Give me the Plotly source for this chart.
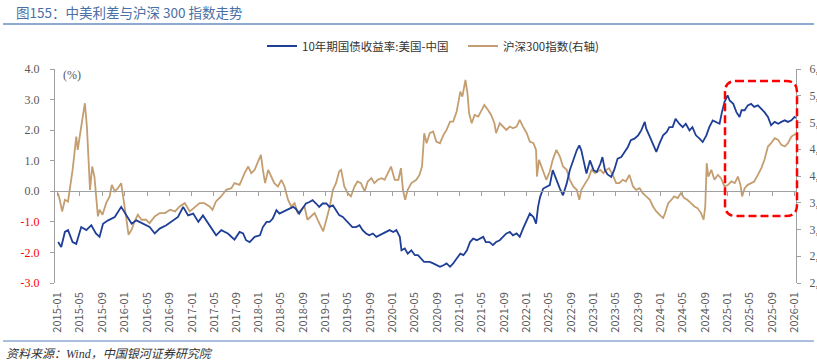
import plotly.graph_objects as go

# ---------------- data ----------------
spread_dates = [
"2015-01-02","2015-01-19","2015-02-08","2015-02-25","2015-03-22","2015-04-11","2015-05-08","2015-06-05",
"2015-07-02","2015-07-27","2015-08-16","2015-09-04","2015-10-02","2015-11-07","2015-12-12","2016-01-10",
"2016-02-07","2016-03-04","2016-04-09","2016-05-15","2016-06-12","2016-07-09","2016-08-14","2016-09-20",
"2016-10-17","2016-11-14","2016-12-11","2017-01-08","2017-02-05","2017-03-02","2017-04-08","2017-05-13",
"2017-06-10","2017-07-16","2017-08-21","2017-09-18","2017-10-07","2017-10-23","2017-11-12","2017-12-09",
"2018-01-07","2018-01-23","2018-02-12","2018-03-01","2018-03-18","2018-04-07","2018-04-23","2018-05-12",
"2018-06-01","2018-06-18","2018-07-07","2018-07-21","2018-08-09","2018-08-26","2018-09-15","2018-10-04",
"2018-10-21","2018-11-09","2018-11-26","2018-12-15","2019-01-04","2019-01-21","2019-02-09","2019-02-26",
"2019-03-15","2019-04-04","2019-04-21","2019-05-09","2019-05-26","2019-06-15","2019-07-04","2019-07-21",
"2019-08-09","2019-08-26","2019-09-15","2019-10-04","2019-10-21","2019-11-09","2019-11-26","2019-12-15",
"2020-01-04","2020-01-21","2020-02-09","2020-02-18","2020-03-07","2020-03-23","2020-04-12","2020-05-01",
"2020-05-18","2020-06-06","2020-06-20","2020-07-04","2020-07-21","2020-08-09","2020-08-26","2020-09-15",
"2020-10-04","2020-10-21","2020-11-09","2020-11-26","2020-12-15","2021-01-04","2021-01-21","2021-02-09",
"2021-02-26","2021-03-15","2021-04-04","2021-04-21","2021-05-09","2021-05-23","2021-06-12","2021-07-01",
"2021-07-18","2021-08-07","2021-08-24","2021-09-12","2021-10-01","2021-10-18","2021-11-07","2021-11-24",
"2021-12-12","2022-01-01","2022-01-18","2022-02-07","2022-02-21","2022-03-04","2022-03-15","2022-04-01",
"2022-04-18","2022-05-07","2022-05-23","2022-06-12","2022-07-01","2022-07-18","2022-08-07","2022-08-24",
"2022-09-12","2022-10-01","2022-10-15","2022-10-26","2022-11-07","2022-11-23","2022-12-12","2023-01-01",
"2023-01-18","2023-02-07","2023-02-18","2023-03-04","2023-03-18","2023-04-07","2023-04-23","2023-05-12",
"2023-06-01","2023-06-18","2023-07-07","2023-07-23","2023-08-12","2023-09-01","2023-09-18","2023-10-07",
"2023-10-15","2023-11-04","2023-11-21","2023-12-09","2023-12-26","2024-01-15","2024-02-04","2024-02-18",
"2024-03-07","2024-03-23","2024-04-12","2024-05-01","2024-05-18","2024-06-07","2024-06-23","2024-07-12",
"2024-08-01","2024-08-18","2024-09-07","2024-09-23","2024-10-12","2024-11-01","2024-11-18","2024-12-01",
"2024-12-15","2025-01-01","2025-01-12","2025-02-01","2025-02-18","2025-03-07","2025-03-18","2025-04-04",
"2025-04-21","2025-05-09","2025-05-26","2025-06-15","2025-07-04","2025-07-21","2025-08-09","2025-08-26",
"2025-09-15","2025-10-04","2025-10-21","2025-11-09","2025-11-26","2025-12-15","2026-01-01","2026-01-08",
]
spread_values = [
-1.66,-1.82,-1.33,-1.27,-1.66,-1.72,-1.17,-1.27,
-1.11,-1.38,-1.49,-1.06,-0.95,-0.84,-0.51,-0.79,
-1.06,-0.95,-1.06,-1.17,-1.38,-1.22,-1.11,-0.95,
-0.84,-0.51,-0.79,-0.73,-1.00,-0.79,-1.11,-1.44,
-1.27,-1.38,-1.58,-1.33,-1.38,-1.60,-1.66,-1.49,
-1.44,-1.17,-1.00,-1.00,-0.89,-0.62,-0.73,-0.68,
-0.62,-0.57,-0.51,-0.57,-0.73,-0.57,-0.40,-0.35,
-0.29,-0.40,-0.51,-0.40,-0.40,-0.51,-0.46,-0.62,
-0.78,-0.84,-0.95,-1.06,-1.17,-1.17,-1.11,-1.27,
-1.38,-1.44,-1.38,-1.49,-1.44,-1.38,-1.33,-1.27,
-1.33,-1.27,-1.49,-1.93,-1.87,-2.04,-1.93,-2.09,
-2.09,-2.20,-2.31,-2.31,-2.31,-2.36,-2.42,-2.47,
-2.42,-2.36,-2.47,-2.36,-2.20,-2.04,-2.09,-1.93,
-1.66,-1.55,-1.60,-1.55,-1.49,-1.66,-1.66,-1.76,
-1.66,-1.60,-1.49,-1.38,-1.33,-1.44,-1.38,-1.49,
-1.22,-0.95,-0.73,-0.84,-1.06,-0.51,-0.19,0.09,
0.14,0.20,0.69,0.36,0.09,-0.13,0.25,0.69,
1.01,1.34,1.50,1.34,1.01,0.58,1.01,0.69,
0.63,0.90,1.12,0.69,0.55,0.47,0.69,1.07,
1.12,1.29,1.45,1.67,1.72,1.83,1.99,2.27,
2.05,1.78,1.56,1.29,1.56,1.83,1.94,2.10,
2.10,2.37,2.21,2.10,2.21,1.99,2.10,1.83,
1.72,1.61,1.83,2.10,2.32,2.27,2.21,2.59,
2.92,3.14,2.97,2.86,2.59,2.43,2.65,2.65,
2.81,2.86,2.76,2.81,2.70,2.59,2.43,2.16,
2.27,2.21,2.27,2.32,2.27,2.32,2.43,2.40,
]

csi_dates = [
"2015-01-01","2015-01-11","2015-01-24","2015-02-08","2015-02-25","2015-03-05","2015-03-22","2015-04-11",
"2015-04-19","2015-05-08","2015-05-16","2015-05-28","2015-06-08","2015-06-18","2015-06-25","2015-07-07",
"2015-07-19","2015-08-07","2015-08-16","2015-09-01","2015-09-21","2015-10-10","2015-10-22","2015-11-07",
"2015-11-24","2015-12-12","2015-12-24","2016-01-10","2016-01-21","2016-02-07","2016-02-23","2016-03-12",
"2016-04-01","2016-04-26","2016-05-15","2016-06-12","2016-07-09","2016-08-07","2016-09-04","2016-10-01",
"2016-10-26","2016-11-23","2016-12-20","2017-01-18","2017-02-12","2017-03-09","2017-04-07","2017-04-23",
"2017-05-12","2017-06-09","2017-07-07","2017-08-04","2017-08-21","2017-09-18","2017-10-15","2017-11-04",
"2017-11-21","2017-12-09","2017-12-26","2018-01-12","2018-01-23","2018-02-04","2018-02-21","2018-03-09",
"2018-03-26","2018-04-15","2018-05-04","2018-05-21","2018-06-09","2018-06-26","2018-07-15","2018-08-01",
"2018-08-18","2018-09-07","2018-09-23","2018-10-12","2018-11-01","2018-11-18","2018-12-07","2018-12-18",
"2019-01-04","2019-01-21","2019-02-09","2019-02-26","2019-03-15","2019-03-26","2019-04-12","2019-05-01",
"2019-05-18","2019-06-07","2019-06-23","2019-07-12","2019-08-01","2019-08-18","2019-09-07","2019-09-23",
"2019-10-12","2019-11-01","2019-11-18","2019-12-07","2019-12-23","2020-01-12","2020-02-01","2020-02-15",
"2020-02-26","2020-03-09","2020-03-23","2020-04-12","2020-05-09","2020-05-26","2020-06-09","2020-06-21",
"2020-07-04","2020-07-21","2020-08-09","2020-08-26","2020-09-15","2020-10-04","2020-10-21","2020-11-09",
"2020-11-26","2020-12-15","2021-01-04","2021-01-15","2021-02-01","2021-02-12","2021-02-21","2021-03-07",
"2021-03-23","2021-04-12","2021-04-26","2021-05-15","2021-06-04","2021-06-21","2021-07-09","2021-07-18",
"2021-08-07","2021-08-24","2021-09-12","2021-10-01","2021-10-18","2021-11-07","2021-11-24","2021-12-12",
"2022-01-01","2022-01-18","2022-02-07","2022-02-21","2022-02-26","2022-03-09","2022-03-21","2022-04-04",
"2022-04-18","2022-05-07","2022-05-23","2022-06-12","2022-07-01","2022-07-18","2022-08-07","2022-08-24",
"2022-09-12","2022-10-01","2022-10-15","2022-10-26","2022-11-15","2022-12-04","2022-12-21","2023-01-09",
"2023-02-07","2023-02-23","2023-03-12","2023-03-26","2023-04-15","2023-05-04","2023-05-21","2023-06-09",
"2023-06-26","2023-07-15","2023-08-04","2023-08-21","2023-09-09","2023-09-26","2023-10-15","2023-11-04",
"2023-11-21","2023-12-09","2023-12-26","2024-01-15","2024-01-23","2024-02-12","2024-03-01","2024-03-15",
"2024-04-04","2024-04-21","2024-05-09","2024-05-26","2024-06-15","2024-07-04","2024-07-21","2024-08-09",
"2024-08-23","2024-09-01","2024-09-09","2024-09-18","2024-10-04","2024-10-21","2024-11-09","2024-11-26",
"2024-12-15","2025-01-04","2025-01-21","2025-02-09","2025-02-26","2025-03-12","2025-03-21","2025-04-04",
"2025-04-21","2025-05-09","2025-05-26","2025-06-15","2025-07-04","2025-07-21","2025-08-09","2025-08-26",
"2025-09-15","2025-10-04","2025-10-21","2025-11-09","2025-11-26","2025-12-15","2026-01-01","2026-01-08",
]
csi_values = [
3680,3556,3338,3556,3524,3711,4115,4737,
4490,4924,5110,5360,4924,4300,3740,4177,
3990,3245,3369,3276,3493,3618,3835,3711,
3773,3867,3618,3182,2902,2996,3151,3276,
3182,3182,3120,3245,3307,3307,3369,3338,
3431,3493,3338,3431,3493,3493,3431,3369,
3524,3618,3742,3773,3867,3835,4053,4177,
4053,4115,4240,4395,4115,3867,4115,3990,
3867,3804,3929,3804,3556,3431,3493,3307,
3369,3431,3182,3245,3307,3182,3058,2965,
3182,3400,3742,3867,4084,4115,3804,3680,
3618,3804,3898,3867,3711,3898,3960,3867,
3929,3960,3929,4053,4177,3929,3929,4146,
3742,3556,3742,3867,3929,4020,4177,4800,
4613,4800,4831,4644,4613,4768,4862,5017,
5017,5204,5577,5484,5795,5546,5173,4986,
5142,5111,5204,5328,5235,5142,4986,4800,
4986,4924,4862,4924,4893,4924,5048,4924,
4800,4644,4613,4489,3990,4302,4177,4053,
3929,4084,4302,4489,4364,4177,4115,3929,
3804,3742,3556,3742,3867,3960,4115,4053,
4115,4053,4115,4146,4022,3867,3867,3929,
3898,4022,3804,3742,3773,3680,3618,3556,
3431,3338,3276,3213,3276,3493,3556,3618,
3587,3680,3587,3556,3493,3431,3400,3307,
3182,3431,4240,3990,4115,3929,4022,3960,
3804,3835,3898,3867,3990,3835,3618,3773,
3835,3867,3898,4022,4146,4302,4551,4613,
4706,4675,4582,4551,4613,4737,4768,4790,
]

tick_dates = [f"{y}-{m:02d}-01" for y in range(2015, 2027) for m in (1, 5, 9)][:34]
left_ticks = [-3.0, -2.0, -1.0, 0.0, 1.0, 2.0, 3.0, 4.0]
right_ticks = [2000, 2500, 3000, 3500, 4000, 4500, 5000, 5500, 6000]

name_spread = "10年期国债收益率:美国-中国"
name_csi = "沪深300指数(右轴)"
title_text = "图155：中美利差与沪深 300 指数走势"
source_text = "资料来源：Wind，中国银河证券研究院"

# ---------------- layout geometry ----------------
FW, FH = 817, 364
L, R, T, B = 55, 796, 69, 283
W, H = R - L, B - T

def px(x):
    return (x - L) / W

def py(y):
    return (B - y) / H

BLUE = "#1f3f96"
TAN = "#c49e70"
GRAY = "#595959"
AXIS = "#a0a0a0"
SANS = "Noto Sans CJK SC, Noto Sans, sans-serif"
SERIF = "Liberation Serif, Noto Sans CJK SC, serif"

fig = go.Figure()

fig.add_trace(go.Scatter(
    x=csi_dates, y=csi_values, name=name_csi, mode="lines",
    line=dict(color=TAN, width=1.8), yaxis="y", xaxis="x", legendrank=2,
))
fig.add_trace(go.Scatter(
    x=spread_dates, y=spread_values, name=name_spread, mode="lines",
    line=dict(color=BLUE, width=1.8), yaxis="y2", xaxis="x", legendrank=1,
))
# carrier trace for the zero-line axis (draws nothing visible)
fig.add_trace(go.Scatter(
    x=spread_dates[:1], y=[None], xaxis="x2", yaxis="y2", mode="lines",
    showlegend=False, hoverinfo="skip",
))

left_text = [
    (f'<span style="color:#ff0000">{v:.1f}</span>' if v < 0 else f"{v:.1f}")
    for v in left_ticks
]

fig.update_layout(
    width=FW, height=FH, autosize=False,
    margin=dict(l=L, r=FW - R, t=T, b=FH - B, pad=0, autoexpand=False),
    paper_bgcolor="white", plot_bgcolor="white",
    showlegend=True,
    legend=dict(
        orientation="h", x=px(262), y=py(46), xanchor="left", yanchor="middle",
        font=dict(family=SANS, size=11.5, color="#333333"),
        entrywidth=156, entrywidthmode="pixels", itemwidth=30,
        bgcolor="rgba(0,0,0,0)",
    ),
    xaxis=dict(
        type="date", range=["2014-12-16", "2026-01-09"], automargin=False,
        showgrid=False, zeroline=False, showline=False,
        tickvals=tick_dates, tickformat="%Y-%m", tickangle=-90,
        ticks="", ticklabelstandoff=6,
        tickfont=dict(family=SANS, size=11, color=GRAY),
    ),
    xaxis2=dict(
        type="date", matches="x", overlaying="x", anchor="free", automargin=False,
        position=3 / 7, showgrid=False, zeroline=False,
        showline=True, linecolor=AXIS, linewidth=1,
        tickvals=tick_dates, ticks="outside", ticklen=4, tickcolor=AXIS,
        showticklabels=False,
    ),
    yaxis=dict(
        side="right", range=[2000, 6000], tickvals=right_ticks, automargin=False,
        tickformat=",", showgrid=False, zeroline=False,
        showline=True, linecolor=AXIS, linewidth=1,
        ticks="outside", ticklen=4, tickcolor=AXIS, ticklabelstandoff=6,
        tickfont=dict(family=SERIF, size=12, color=GRAY),
    ),
    yaxis2=dict(
        side="left", overlaying="y", anchor="x", range=[-3, 4], automargin=False,
        tickvals=left_ticks, ticktext=left_text,
        showgrid=False, zeroline=False,
        showline=True, linecolor=AXIS, linewidth=1,
        ticks="outside", ticklen=4, tickcolor=AXIS, ticklabelstandoff=8,
        tickfont=dict(family=SERIF, size=12, color=GRAY),
    ),
)

# title, underline, footer
fig.add_annotation(
    text=title_text, xref="paper", yref="paper", x=px(14), y=py(12),
    xanchor="left", yanchor="middle", showarrow=False,
    font=dict(family=SANS, size=13.5, color="#4a6fa5"),
)
fig.add_shape(type="line", xref="paper", yref="paper",
              x0=px(3), x1=px(814), y0=py(24), y1=py(24),
              line=dict(color="#8eaad2", width=2))
fig.add_shape(type="line", xref="paper", yref="paper",
              x0=px(3), x1=px(814), y0=py(341), y1=py(341),
              line=dict(color="#8eaad2", width=1.5))
fig.add_annotation(
    text=f"<i>{source_text}</i>", xref="paper", yref="paper", x=px(4), y=py(354),
    xanchor="left", yanchor="middle", showarrow=False,
    font=dict(family="Liberation Serif, Noto Sans CJK SC, serif", size=12, color="#333333"),
)
fig.add_annotation(
    text="(%)", xref="paper", yref="paper", x=px(61), y=py(75),
    xanchor="left", yanchor="middle", showarrow=False,
    font=dict(family=SERIF, size=12, color=GRAY),
)

# red dashed rounded box
bx0, bx1, by0, by1, r = 725, 797, 81, 216, 11
rx, ry = r / W, r / H
X0, X1, Y0, Y1 = px(bx0), px(bx1), py(by1), py(by0)
path = (
    f"M {X0 + rx},{Y1} L {X1 - rx},{Y1} Q {X1},{Y1} {X1},{Y1 - ry} "
    f"L {X1},{Y0 + ry} Q {X1},{Y0} {X1 - rx},{Y0} "
    f"L {X0 + rx},{Y0} Q {X0},{Y0} {X0},{Y0 + ry} "
    f"L {X0},{Y1 - ry} Q {X0},{Y1} {X0 + rx},{Y1} Z"
)
fig.add_shape(type="path", xref="paper", yref="paper", path=path,
              line=dict(color="#ff0000", width=2.5, dash="8px,4px"))

fig.write_html("out.html", config={"displayModeBar": False},
               post_script="document.body.style.margin='0';")
